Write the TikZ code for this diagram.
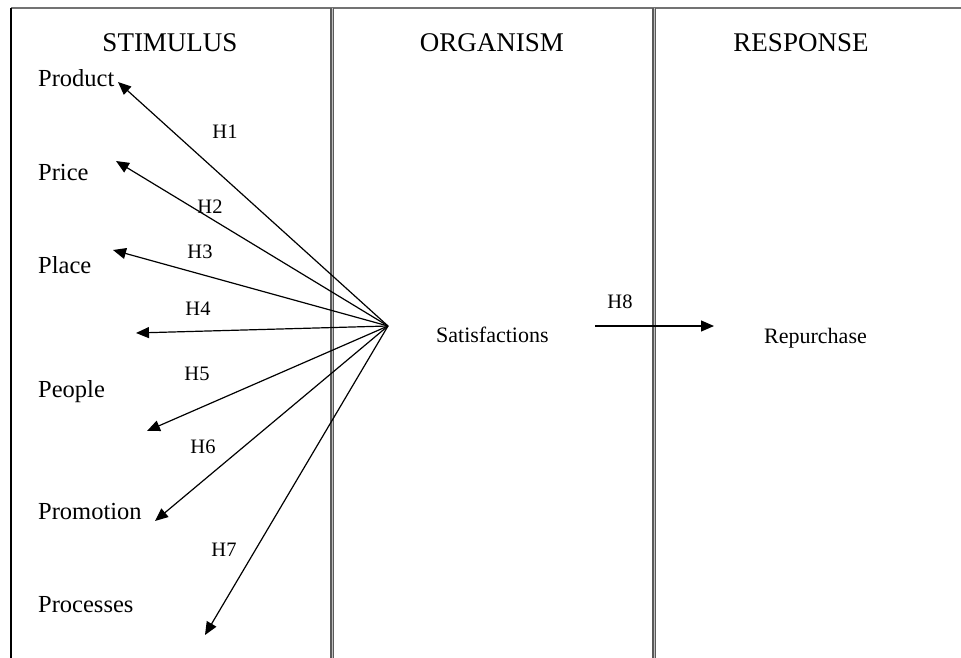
\documentclass[tikz,border=0pt]{standalone}
\usepackage{fontspec}
\setmainfont{Liberation Serif}
\usetikzlibrary{arrows.meta}
\begin{document}
\begin{tikzpicture}[x=1pt,y=-1pt,
  head/.style={inner sep=0pt,anchor=base,font=\fontsize{27}{32}\selectfont},
  item/.style={inner sep=0pt,anchor=base west,font=\fontsize{24.5}{29}\selectfont},
  hyp/.style={inner sep=0pt,anchor=base,font=\fontsize{20.5}{24}\selectfont},
  mid/.style={inner sep=0pt,anchor=base west,font=\fontsize{22}{26}\selectfont},
  link/.style={line width=1.2pt,-{Triangle[length=13pt,width=11pt]}},
  sep/.style={draw=black!65,line width=1.4pt,double=black!25,double distance=1pt}]
\useasboundingbox (0,0) rectangle (961,658);
% frame
\draw[black!55,line width=1.3pt] (11,8) -- (961,8);
\draw[black,line width=1.1pt] (11,8) -- (11,658);
\draw[sep] (332,8) -- (332,658);
\draw[sep] (654,8) -- (654,658);
% headings
\node[head] (hs) at (170,52) {STIMULUS};
\node[head] (ho) at (492,52) {ORGANISM};
\node[head] (hr) at (801,52) {RESPONSE};
% stimulus items
\node[item] (product) at (38,87) {Product};
\node[item] (price) at (38,180) {Price};
\node[item] (place) at (38,273) {Place};
\node[item] (people) at (38,397) {People};
\node[item] (promotion) at (38,519) {Promotion};
\node[item] (processes) at (38,612) {Processes};
% hypothesis labels
\node[hyp] (h1) at (225,139) {H1};
\node[hyp] (h2) at (210,213) {H2};
\node[hyp] (h3) at (200,258) {H3};
\node[hyp] (h4) at (198,315) {H4};
\node[hyp] (h5) at (197,380) {H5};
\node[hyp] (h6) at (203,453) {H6};
\node[hyp] (h7) at (224,556) {H7};
\node[hyp] (h8) at (620,308) {H8};
% organism / response
\node[mid] (sat) at (436,342) {Satisfactions};
\node[mid] (rep) at (764,343) {Repurchase};
% arrow points
\coordinate (hub) at (388,326);
\coordinate (t1) at (118,82);
\coordinate (t2) at (116,161);
\coordinate (t3) at (113,250);
\coordinate (t4) at (136,333);
\coordinate (t5) at (147,431);
\coordinate (t6) at (155,521);
\coordinate (t7) at (205,635);
\coordinate (s8) at (595,326);
\coordinate (t8) at (714,326);
\foreach \t in {t1,t2,t3,t4,t5,t6,t7} \draw[link] (hub) -- (\t);
\draw[link] (s8) -- (t8);
\end{tikzpicture}
\end{document}
